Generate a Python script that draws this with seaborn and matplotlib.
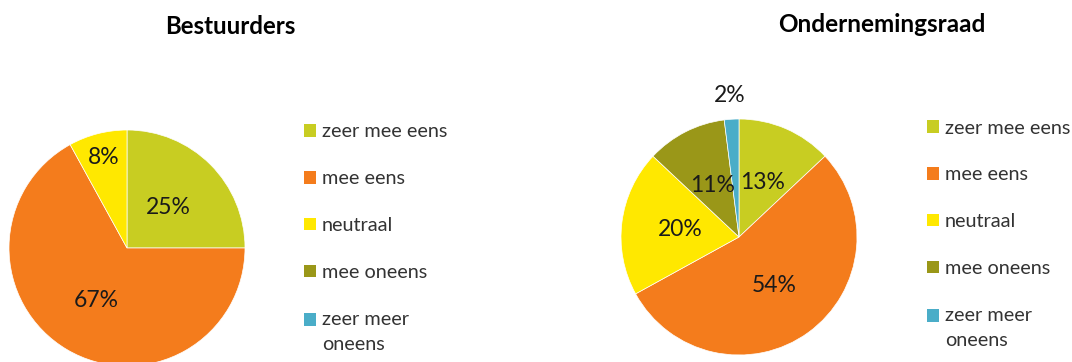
import numpy as np
import matplotlib
matplotlib.use("Agg")
import matplotlib.pyplot as plt
import seaborn as sns
from matplotlib.patches import Patch, Rectangle
from matplotlib.legend_handler import HandlerPatch

sns.set_theme(style="white")
plt.rcParams['font.family'] = ['Lato', 'DejaVu Sans']

categories = ["zeer mee eens", "mee eens", "neutraal", "mee oneens", "zeer meer\noneens"]
colors = ["#C8CD22", "#F47C1C", "#FFE800", "#9A9718", "#4AADC8"]

bestuurders_labels = ["zeer mee eens", "mee eens", "neutraal"]
bestuurders_values = [25, 67, 8]
or_labels = ["zeer mee eens", "mee eens", "neutraal", "mee oneens", "zeer meer\noneens"]
or_values = [13, 54, 20, 11, 2]

W, H = 1072, 362
fig = plt.figure(figsize=(W / 100, H / 100), dpi=100)
fig.patch.set_facecolor("white")


def pie_axes(cx, cy, r):
    return fig.add_axes([(cx - r) / W, (H - cy - r) / H, 2 * r / W, 2 * r / H])


def draw_pie(ax, values, cols, dists):
    ax.pie(values, colors=cols, startangle=90, counterclock=False,
           radius=1, wedgeprops=dict(linewidth=0.5, edgecolor="white"))
    total = float(sum(values))
    cum = 0.0
    for v, d in zip(values, dists):
        mid = (cum + v / 2) / total * 2 * np.pi
        cum += v
        ax.text(d * np.sin(mid), d * np.cos(mid), f"{v}%", ha="center", va="center",
                fontsize=16.5, color="#1a1a1a", clip_on=False)
    ax.set_xlim(-1, 1)
    ax.set_ylim(-1, 1)
    ax.set_aspect("equal")
    ax.axis("off")


ax1 = pie_axes(127, 248, 118)
draw_pie(ax1, bestuurders_values, colors[:3], [0.49, 0.52, 0.79])
ax2 = pie_axes(739, 237, 118)
draw_pie(ax2, or_values, colors, [0.5, 0.51, 0.5, 0.49, 1.2])

fig.text(230.5 / W, 1 - 26 / H, "Bestuurders", ha="center", va="center",
         fontsize=17.3, fontweight="bold", color="black")
fig.text(882 / W, 1 - 25 / H, "Ondernemingsraad", ha="center", va="center",
         fontsize=17.5, fontweight="bold", color="black")

LEG_FS = 14.3
LINESP = 1.62


def top_aligned_patch(legend, orig_handle, xdescent, ydescent, width, height, fontsize):
    return Rectangle((-xdescent, -ydescent + 8.8), width, height)


handles = [Patch(facecolor=c, edgecolor="none", label=l) for c, l in zip(colors, categories)]
for x0, y0 in [(304, 123.5), (927, 119.5)]:
    leg = fig.legend(handles=handles, loc="upper left", bbox_to_anchor=(x0 / W, 1 - y0 / H),
                     frameon=False, fontsize=LEG_FS, handlelength=0.6, handleheight=0.6,
                     handletextpad=0.3, labelspacing=1.5, borderaxespad=0, borderpad=0,
                     labelcolor="#333333",
                     handler_map={handles[4]: HandlerPatch(patch_func=top_aligned_patch)})
    for t in leg.get_texts():
        t.set_linespacing(LINESP)

fig.savefig("out.png", dpi=100, facecolor="white")
